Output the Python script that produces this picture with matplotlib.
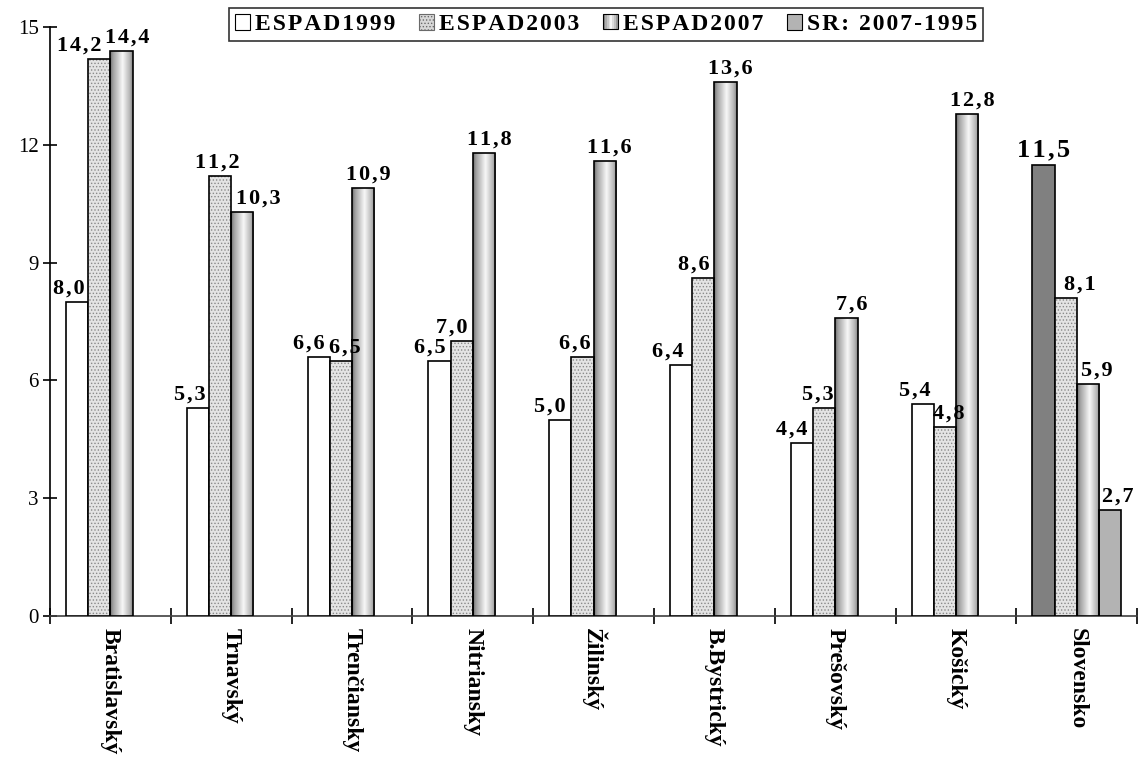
import numpy as np
import matplotlib
matplotlib.use("Agg")
import matplotlib.pyplot as plt
from matplotlib.patches import Patch, Rectangle
from matplotlib.legend_handler import HandlerBase

plt.rcParams['font.family'] = ['Liberation Serif', 'DejaVu Serif']
plt.rcParams['hatch.linewidth'] = 0.6

# data
regions = ['Bratislavský', 'Trnavský', 'Trenčiansky', 'Nitriansky', 'Žilinský',
           'B.Bystrický', 'Prešovský', 'Košický', 'Slovensko']
espad1999 = [8.0, 5.3, 6.6, 6.5, 5.0, 6.4, 4.4, 5.4, 11.5]
espad2003 = [14.2, 11.2, 6.5, 7.0, 6.6, 8.6, 5.3, 4.8, 8.1]
espad2007 = [14.4, 10.3, 10.9, 11.8, 11.6, 13.6, 7.6, 12.8, 5.9]
sr_diff = [2.7]          # only for Slovensko
series_names = ['ESPAD1999', 'ESPAD2003', 'ESPAD2007', 'SR: 2007-1995']

# label nudges in pixels (the original chart shifts labels to avoid overlaps)
nudge1999 = [-8, -8, -10, -10, -10, -13, -10, -8, 0]
nudge2003 = [-20, -3, 4, -10, -8, -10, -6, 4, 14]
nudge2007 = [6, 16, 5, 5, 5, 5, 5, 5, 9]
nudge_sr = [8]

HAIR = '\u200a'


def fmt(v):
    return HAIR.join(f"{v:.1f}".replace('.', ','))


def spaced(s):
    return HAIR.join(s)


PX = 72 / 100  # points per pixel

fig = plt.figure(figsize=(11.39, 7.57), dpi=100)
ax = fig.add_axes([50 / 1139, 1 - 615.7 / 757, 1087.3 / 1139, 588.4 / 757])

x = np.arange(len(regions)) + 0.5
w = 0.184

# ESPAD1999 - white, Slovensko bar is dark grey
colors1999 = ['white'] * (len(regions) - 1) + ['#808080']
ax.bar(x - 1.5 * w, espad1999, w, color=colors1999, edgecolor='black',
       linewidth=1.2, zorder=3)

# ESPAD2003 - dotted light grey
ax.bar(x - 0.5 * w, espad2003, w, color='#e4e4e4', edgecolor='#8a8a8a',
       hatch='.....', linewidth=0, zorder=3)
ax.bar(x - 0.5 * w, espad2003, w, color='none', edgecolor='black',
       linewidth=1.2, zorder=4)

# ESPAD2007 - cylinder look, gradient clipped to each bar
b3 = ax.bar(x + 0.5 * w, espad2007, w, color='none', edgecolor='black',
            linewidth=1.2, zorder=4)
grad = np.interp(np.linspace(0, 1, 64), [0, 0.12, 0.55, 0.88, 1],
                 [0.42, 0.62, 0.97, 0.7, 0.5])
for bar in b3:
    x0, h = bar.get_x(), bar.get_height()
    im = ax.imshow(grad[None, :], extent=[x0, x0 + bar.get_width(), 0, h],
                   aspect='auto', cmap='gray', vmin=0, vmax=1, zorder=3,
                   interpolation='bilinear')
    im.set_clip_path(bar)

# SR: 2007-1995 - only last group
ax.bar(x[-1:] + 1.5 * w, sr_diff, w, color='#b3b3b3', edgecolor='black',
       linewidth=1.2, zorder=3)

# value labels
lab_kw = dict(textcoords='offset points', ha='center', va='bottom',
              fontweight='bold', zorder=6)


def put_labels(xs, vals, nudges, size=16):
    for xi, v, dx in zip(xs, vals, nudges):
        ax.annotate(fmt(v), (xi, v), xytext=(dx * PX, 2.5),
                    fontsize=size, **lab_kw)


put_labels(x[:-1] - 1.5 * w, espad1999[:-1], nudge1999[:-1])
put_labels(x[-1:] - 1.5 * w, espad1999[-1:], nudge1999[-1:], size=19)
put_labels(x - 0.5 * w, espad2003, nudge2003)
put_labels(x + 0.5 * w, espad2007, nudge2007)
put_labels(x[-1:] + 1.5 * w, sr_diff, nudge_sr)

ax.set_xlim(0, len(regions))
ax.set_ylim(0, 15)
ax.set_yticks(np.arange(0, 16, 3))
ax.tick_params(axis='y', direction='inout', length=10, width=1.2,
               labelsize=15, pad=3)

ax.set_xticks(np.arange(0, len(regions) + 1))
ax.set_xticklabels([])
ax.tick_params(axis='x', which='major', direction='inout', length=11, width=1.2)
ax.set_xticks(x, minor=True)
ax.set_xticklabels(regions, minor=True, rotation=270, fontweight='bold',
                   fontsize=17, va='top', ha='center')
ax.tick_params(axis='x', which='minor', length=0, pad=9)

for s in ['top', 'right']:
    ax.spines[s].set_visible(False)
ax.spines['left'].set_linewidth(1.2)
ax.spines['bottom'].set_linewidth(1.2)
ax.spines['bottom'].set_color('#404040')


class GradientHandler(HandlerBase):
    # small cylinder-shaded square for the legend
    def create_artists(self, legend, orig_handle, xdescent, ydescent,
                       width, height, fontsize, trans):
        side = min(width, height)
        x0, y0 = -xdescent, -ydescent + (height - side) / 2
        n = 8
        arts = []
        for k in range(n):
            c = str(float(np.interp((k + 0.5) / n, np.linspace(0, 1, 64), grad)))
            arts.append(Rectangle((x0 + k * side / n, y0), side / n, side,
                                  facecolor=c, edgecolor='none', transform=trans))
        arts.append(Rectangle((x0, y0), side, side, facecolor='none',
                              edgecolor='black', linewidth=0.8, transform=trans))
        return arts


grad_handle = Patch(facecolor='#cfcfcf')
handles = [Patch(facecolor='white', edgecolor='black', linewidth=0.8),
           Patch(facecolor='#d8d8d8', edgecolor='#6a6a6a', hatch='.....', linewidth=0.8),
           grad_handle,
           Patch(facecolor='#b3b3b3', edgecolor='black', linewidth=0.8)]
leg = fig.legend(handles, [spaced(s) for s in series_names], loc='upper center',
                 ncol=4, bbox_to_anchor=(606 / 1139, 1 - 8 / 757),
                 borderaxespad=0, frameon=True, fancybox=False,
                 edgecolor='black', handlelength=0.65, handleheight=0.65,
                 handletextpad=0.2, columnspacing=1.0, borderpad=0.25,
                 handler_map={grad_handle: GradientHandler()},
                 prop={'weight': 'bold', 'size': 17})
leg.get_frame().set_linewidth(1.2)

fig.savefig('out.png', dpi=100)
